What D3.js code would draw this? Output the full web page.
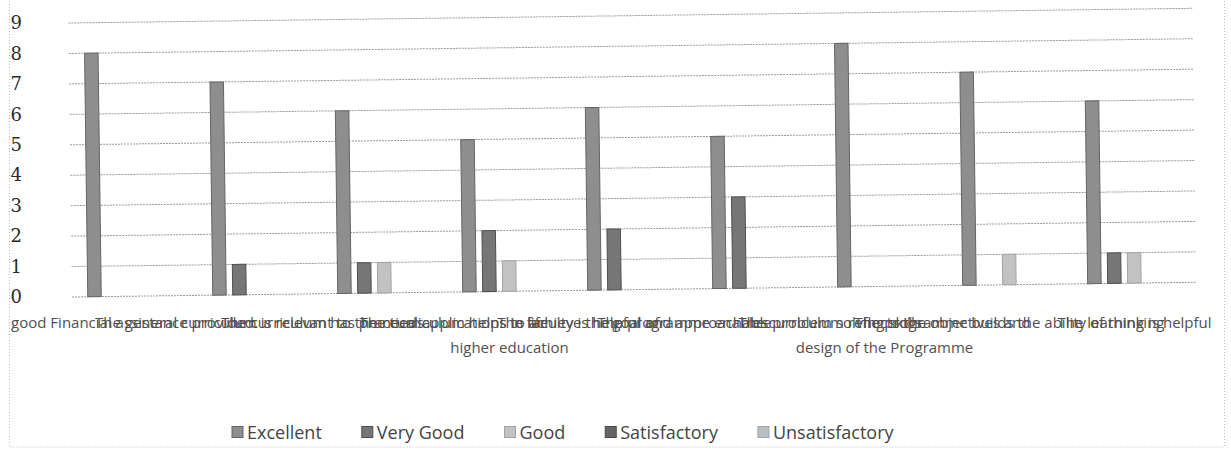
<!DOCTYPE html>
<html>
<head>
<meta charset="utf-8">
<script src="https://cdn.jsdelivr.net/npm/d3@7"></script>
<style>
  html, body { margin: 0; padding: 0; background: #fff; }
  svg { display: block; }
</style>
</head>
<body>
<svg id="chart" width="1231" height="450"></svg>
<script>
// ---- data ----
const categoriesLine1 = [
  "good Financial assistance provided.",
  "The general curriculum is relevant to the needs",
  "The curriculum has practical applications in life",
  "The curriculum helps to achieve the goal of",
  "The faculty is helpful and approachable",
  "The programme enables problem solving skills",
  "The curriculum reflects the objectives and",
  "The programme builds the ability of thinking",
  "The learning is helpful"
];
const categoriesLine2 = ["", "", "", "higher education", "", "", "design of the Programme", "", ""];
const seriesNames = ["Excellent", "Very Good", "Good", "Satisfactory", "Unsatisfactory"];
const excellent      = [8, 7, 6, 5, 6, 5, 8, 7, 6];
const veryGood       = [0, 1, 1, 2, 2, 3, 0, 0, 1];
const good           = [0, 0, 1, 1, 0, 0, 0, 1, 1];
const satisfactory   = [0, 0, 0, 0, 0, 0, 0, 0, 0];
const unsatisfactory = [0, 0, 0, 0, 0, 0, 0, 0, 0];
const yTicks = [0, 1, 2, 3, 4, 5, 6, 7, 8, 9];

const seriesValues = [excellent, veryGood, good, satisfactory, unsatisfactory];
const fills   = ["#8e8e8e", "#767676", "#c2c2c2", "#656565", "#b9bfc3"];
const strokes = ["#646464", "#4f4f4f", "#a3a3a3", "#4a4a4a", "#9ea4a8"];

// ---- layout ----
const svg = d3.select("#chart");
const plotLeft = 72, plotRight = 1197, plotTop = 23, plotBottom = 297;

// outer dotted border (scan)
svg.append("rect")
  .attr("x", 9.5).attr("y", -5).attr("width", 1215).attr("height", 452)
  .attr("fill", "none").attr("stroke", "#bbb").attr("stroke-dasharray", "1,2");

// the scanned plot area is slightly tilted
const g = svg.append("g").attr("transform", `rotate(-0.75, ${plotLeft}, ${plotBottom})`);

const x0 = d3.scaleBand()
  .domain(d3.range(categoriesLine1.length))
  .range([plotLeft, plotRight])
  .paddingInner(0.244).paddingOuter(0.122);
const x1 = d3.scaleBand()
  .domain(seriesNames)
  .range([0, x0.bandwidth()])
  .paddingInner(0.275).paddingOuter(0);
const y = d3.scaleLinear().domain([0, 9]).range([plotBottom, plotTop]);

// gridlines
g.append("g")
  .selectAll("line")
  .data(yTicks)
  .join("line")
  .attr("x1", plotLeft).attr("x2", plotRight)
  .attr("y1", d => y(d)).attr("y2", d => y(d))
  .attr("stroke", "#9a9a9a").attr("stroke-width", 1)
  .attr("stroke-dasharray", "2,1");

// y axis labels
const yAxis = d3.axisLeft(y).tickValues(yTicks).tickSize(0).tickPadding(50).tickFormat(d3.format("d"));
const yg = svg.append("g").attr("transform", `translate(${plotLeft},0)`).call(yAxis);
yg.select(".domain").remove();
yg.selectAll("text")
  .attr("font-family", "'DejaVu Serif', 'Liberation Serif', serif")
  .attr("font-size", 18).attr("fill", "#2a2a2a");

// bars
const barData = [];
categoriesLine1.forEach((c, i) => {
  seriesNames.forEach((s, k) => {
    barData.push({ cat: i, series: s, k: k, value: seriesValues[k][i] });
  });
});
g.append("g")
  .selectAll("rect")
  .data(barData.filter(d => d.value > 0))
  .join("rect")
  .attr("x", d => x0(d.cat) + x1(d.series) + 0.5)
  .attr("width", x1.bandwidth() - 1)
  .attr("y", d => y(d.value))
  .attr("height", d => y(0) - y(d.value))
  .attr("fill", d => fills[d.k])
  .attr("stroke", d => strokes[d.k]).attr("stroke-width", 1);

// x labels (overlapping, as in reference)
const xl = svg.append("g")
  .attr("font-family", "'Open Sans', 'Liberation Sans', sans-serif")
  .attr("font-size", 15).attr("fill", "#505050");
xl.selectAll("text.l1")
  .data(categoriesLine1)
  .join("text").attr("class", "l1")
  .attr("x", (d, i) => x0(i) + x0.bandwidth() / 2)
  .attr("y", 328)
  .attr("text-anchor", "middle")
  .text(d => d);
xl.selectAll("text.l2")
  .data(categoriesLine2)
  .join("text").attr("class", "l2")
  .attr("x", (d, i) => x0(i) + x0.bandwidth() / 2)
  .attr("y", 353)
  .attr("text-anchor", "middle")
  .text(d => d);

// legend
const legend = svg.append("g")
  .attr("font-family", "'Open Sans', 'Liberation Sans', sans-serif")
  .attr("font-size", 18).attr("fill", "#444");
const items = [];
seriesNames.forEach((s, k) => {
  const it = legend.append("g");
  it.append("rect").attr("x", 0).attr("y", -5.5).attr("width", 11).attr("height", 11)
    .attr("fill", fills[k]).attr("stroke", strokes[k]);
  const t = it.append("text").attr("x", 15).attr("y", 6.5).text(s);
  const w = 15 + t.node().getComputedTextLength();
  items.push({ it, w });
});
const gap = 40;
let lx = 232;
items.forEach(d => {
  d.it.attr("transform", `translate(${lx},432)`);
  lx += d.w + gap;
});
</script>
</body>
</html>
